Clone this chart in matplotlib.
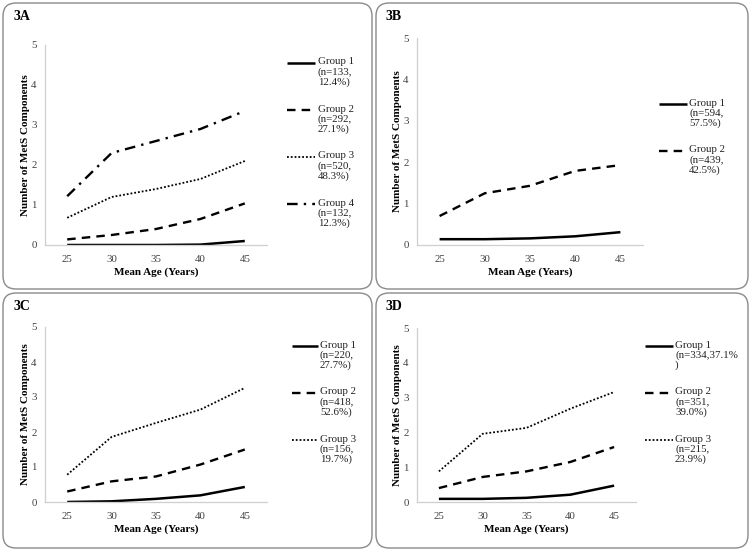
import matplotlib
matplotlib.use("Agg")
import matplotlib.pyplot as plt
from matplotlib.patches import FancyBboxPatch
from matplotlib.lines import Line2D

plt.rcParams['font.family'] = ['Liberation Serif', 'DejaVu Serif']

ages = [25, 30, 35, 40, 45]

# 3A
a_g1 = [0.0, 0.0, 0.0, 0.01, 0.1]
a_g2 = [0.14, 0.25, 0.4, 0.65, 1.04]
a_g3 = [0.68, 1.2, 1.4, 1.65, 2.1]
a_g4 = [1.22, 2.3, 2.6, 2.9, 3.35]
a_labels = ["Group 1\n(n=133,\n12.4%)", "Group 2\n(n=292,\n27.1%)",
            "Group 3\n(n=520,\n48.3%)", "Group 4\n(n=132,\n12.3%)"]

# 3B
b_g1 = [0.14, 0.14, 0.16, 0.21, 0.31]
b_g2 = [0.7, 1.25, 1.43, 1.79, 1.93]
b_labels = ["Group 1\n(n=594,\n57.5%)", "Group 2\n(n=439,\n42.5%)"]

# 3C
c_g1 = [0.0, 0.02, 0.09, 0.19, 0.43]
c_g2 = [0.3, 0.59, 0.73, 1.07, 1.5]
c_g3 = [0.78, 1.86, 2.26, 2.64, 3.26]
c_labels = ["Group 1\n(n=220,\n27.7%)", "Group 2\n(n=418,\n52.6%)",
            "Group 3\n(n=156,\n19.7%)"]

# 3D
d_g1 = [0.09, 0.09, 0.12, 0.21, 0.47]
d_g2 = [0.4, 0.72, 0.88, 1.15, 1.58]
d_g3 = [0.88, 1.96, 2.13, 2.68, 3.16]
d_labels = ["Group 1\n(n=334,37.1%\n)", "Group 2\n(n=351,\n39.0%)",
            "Group 3\n(n=215,\n23.9%)"]

styles = [
    dict(ls='-', lw=1.8),
    dict(ls=(0, (3.6, 2.6)), lw=1.7),
    dict(ls=(0, (1, 1.1)), lw=1.3),
    dict(ls=(0, (4.5, 2.6, 1, 2.6)), lw=1.7),
]

W, H = 752, 552
fig = plt.figure(figsize=(W / 100, H / 100), dpi=100)


def px_axes(x0, x1, ytop, ybot):
    return fig.add_axes([x0 / W, 1 - ybot / H, (x1 - x0) / W, (ybot - ytop) / H])


def box(x0, y0, x1, y1):
    p = FancyBboxPatch((x0 / 100, (H - y1) / 100), (x1 - x0) / 100, (y1 - y0) / 100,
                       boxstyle="round,pad=0,rounding_size=0.13",
                       transform=fig.dpi_scale_trans, fill=False,
                       ec='#8a8a8a', lw=1.0)
    fig.add_artist(p)


def panel(name, series, labels, axpos, boxpos, leg):
    box(*boxpos)
    ax = px_axes(*axpos)
    pos = list(range(len(ages)))
    for s, st in zip(series, styles):
        ax.plot(pos, s, color='black', solid_capstyle='butt', dash_capstyle='butt', **st)
    ax.set_xlim(-0.5, len(ages) - 0.5)
    ax.set_ylim(0, 5)
    ax.set_xticks(pos)
    ax.set_xticklabels([str(a) for a in ages])
    ax.set_yticks(range(6))
    ax.tick_params(length=0, labelsize=7.8, labelcolor='#404040')
    ax.tick_params(axis='x', pad=7)
    ax.tick_params(axis='y', pad=6)
    for side in ['top', 'right']:
        ax.spines[side].set_visible(False)
    for side in ['left', 'bottom']:
        ax.spines[side].set_color('#cfcfcf')
        ax.spines[side].set_linewidth(0.9)
    ax.set_xlabel("Mean Age (Years)", fontsize=8, fontweight='bold', labelpad=3)
    ax.set_ylabel("Number of MetS Components", fontsize=8, fontweight='bold', labelpad=1)
    fig.text((boxpos[0] + 10) / W, 1 - (boxpos[1] + 14) / H, name,
             fontsize=10, fontweight='bold', va='center', ha='left')
    # legend drawn by hand so the handle sits on the first line
    lx0, lx1, tx, ty, step = leg
    for i, (lab, st) in enumerate(zip(labels, styles)):
        y = ty + i * step
        fig.add_artist(Line2D([lx0 / W, lx1 / W], [1 - y / H, 1 - y / H],
                              transform=fig.transFigure, color='black',
                              solid_capstyle='butt', dash_capstyle='butt', **st))
        fig.text(tx / W, 1 - (y - 5.5) / H, lab, fontsize=7.8, va='top', ha='left',
                 linespacing=1.12, color='#202020')


panel("3A", [a_g1, a_g2, a_g3, a_g4], a_labels,
      (45, 267, 45, 245), (3, 3, 372, 289), (287, 315, 318, 63, 47))
panel("3B", [b_g1, b_g2], b_labels,
      (417, 643, 38, 245), (376, 3, 748, 289), (659, 687, 689, 104, 47))
panel("3C", [c_g1, c_g2, c_g3], c_labels,
      (45, 267, 327, 502), (3, 293, 372, 548), (292, 318, 320, 346, 47))
panel("3D", [d_g1, d_g2, d_g3], d_labels,
      (417, 636, 328, 502), (376, 293, 748, 548), (645, 673, 675, 346, 47))

fig.savefig("out.png", dpi=100)
